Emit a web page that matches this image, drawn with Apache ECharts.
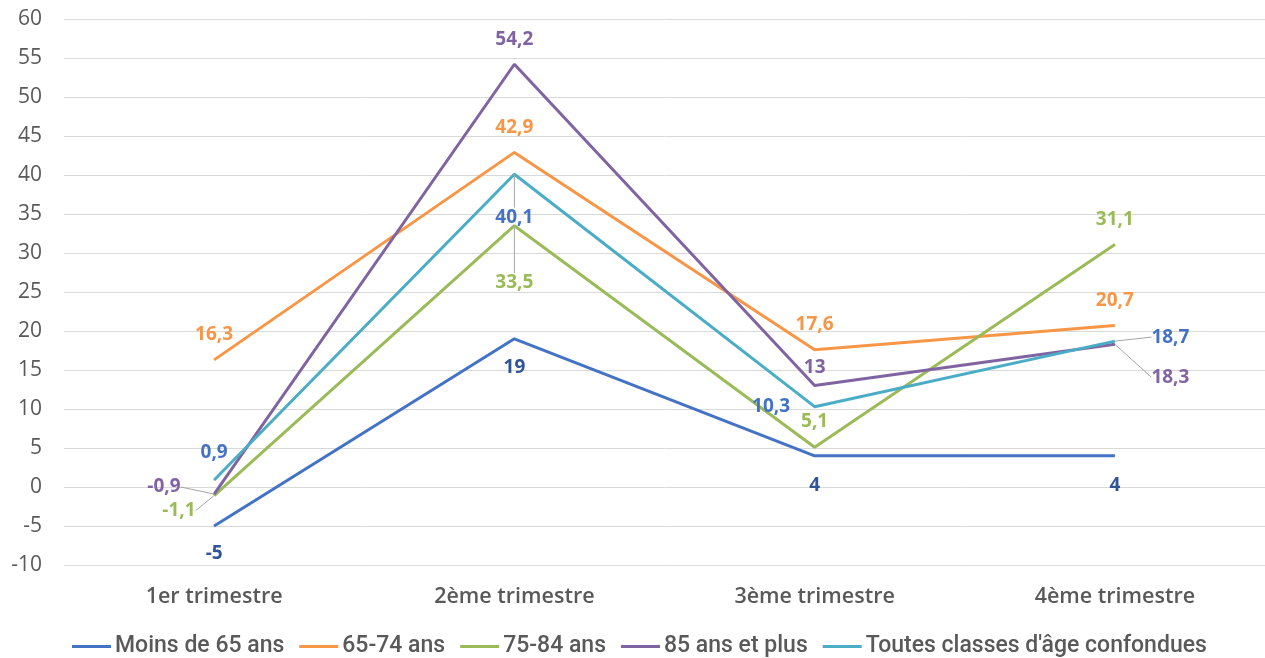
<!DOCTYPE html>
<html>
<head>
<meta charset="utf-8">
<script src="https://cdn.jsdelivr.net/npm/echarts@6/dist/echarts.min.js"></script>
<style>
  html, body { margin: 0; padding: 0; background: #fff; }
  #chart { width: 1265px; height: 658px; }
</style>
</head>
<body>
<div id="chart"></div>
<script>
// Quarterly change by age group
const categories = ['1er trimestre', '2ème trimestre', '3ème trimestre', '4ème trimestre'];
const seriesNames = ['Moins de 65 ans', '65-74 ans', '75-84 ans', '85 ans et plus', "Toutes classes d'âge confondues"];
const moins65 = [-5, 19, 4, 4];
const age6574 = [16.3, 42.9, 17.6, 20.7];
const age7584 = [-1.1, 33.5, 5.1, 31.1];
const age85plus = [-0.9, 54.2, 13, 18.3];
const toutes = [0.9, 40.1, 10.3, 18.7];
const yTicks = { min: -10, max: 60, step: 5 };

const lineColors = ['#4472C4', '#F79646', '#9BBB59', '#8064A2', '#4BACC6'];
const labelColors = ['#2F5597', '#F79646', '#9BBB59', '#8064A2', '#4472C4'];

// label placement per series and point: [position, distance, dx, dy, guide line]
const labelPlacement = [
  [['bottom', 18], ['bottom', 19], ['bottom', 20], ['bottom', 20]],
  [['top', 15], ['top', 15], ['top', 15], ['top', 15]],
  [['left', 18, 0, 15, true], ['bottom', 47, 0, 0, true], ['top', 16], ['top', 15]],
  [['left', 33, 0, -7, true], ['top', 15], ['top', 8], ['right', 36, 0, 33, true]],
  [['top', 17], ['bottom', 33, 0, 0, true], ['left', 24], ['right', 36, 0, -4, true]]
];

const allValues = [moins65, age6574, age7584, age85plus, toutes];
const fmt = v => String(v).replace('.', ',');
const font = "'Open Sans', 'Noto Sans', sans-serif";

const series = allValues.map((vals, s) => ({
  name: seriesNames[s],
  type: 'line',
  symbol: 'circle',
  symbolSize: 1,
  showSymbol: true,
  z: s === 4 ? 3 : 2,
  lineStyle: { color: lineColors[s], width: 3 },
  itemStyle: { color: lineColors[s] },
  emphasis: { disabled: true },
  label: {
    show: true,
    color: labelColors[s],
    fontFamily: font,
    fontSize: 19,
    fontWeight: 'bold',
    formatter: p => fmt(p.value)
  },
  labelLine: { show: false, lineStyle: { color: '#A6A6A6', width: 1 } },
  labelLayout: p => {
    const cfg = labelPlacement[s][p.dataIndex];
    return { dx: cfg[2] || 0, dy: cfg[3] || 0 };
  },
  data: vals.map((v, i) => {
    const cfg = labelPlacement[s][i];
    return {
      value: v,
      label: { position: cfg[0], distance: cfg[1] },
      labelLine: { show: !!cfg[4], lineStyle: { color: '#A6A6A6', width: 1 } }
    };
  })
}));

const chart = echarts.init(document.getElementById('chart'), null, { renderer: 'canvas' });
chart.setOption({
  animation: false,
  backgroundColor: '#ffffff',
  grid: { left: 64, top: 19, width: 1206, height: 546 },
  xAxis: {
    type: 'category',
    data: categories,
    boundaryGap: true,
    axisLine: { show: false },
    axisTick: { show: false },
    axisLabel: { color: '#595959', fontFamily: font, fontSize: 21.5, fontWeight: 600, margin: 21 }
  },
  yAxis: {
    type: 'value',
    min: yTicks.min,
    max: yTicks.max,
    interval: yTicks.step,
    axisLine: { show: false },
    axisTick: { show: false },
    splitLine: { lineStyle: { color: '#D9D9D9', width: 1 } },
    axisLabel: { color: '#595959', fontFamily: font, fontSize: 21, margin: 22 }
  },
  legend: {
    data: seriesNames,
    left: 72,
    top: 635,
    padding: 0,
    icon: 'rect',
    itemWidth: 39,
    itemHeight: 3,
    itemGap: 15,
    textStyle: { color: '#595959', fontFamily: "Roboto, sans-serif", fontSize: 23, fontWeight: 500, padding: [0, 0, 0, -1] }
  },
  series: series
});
</script>
</body>
</html>
